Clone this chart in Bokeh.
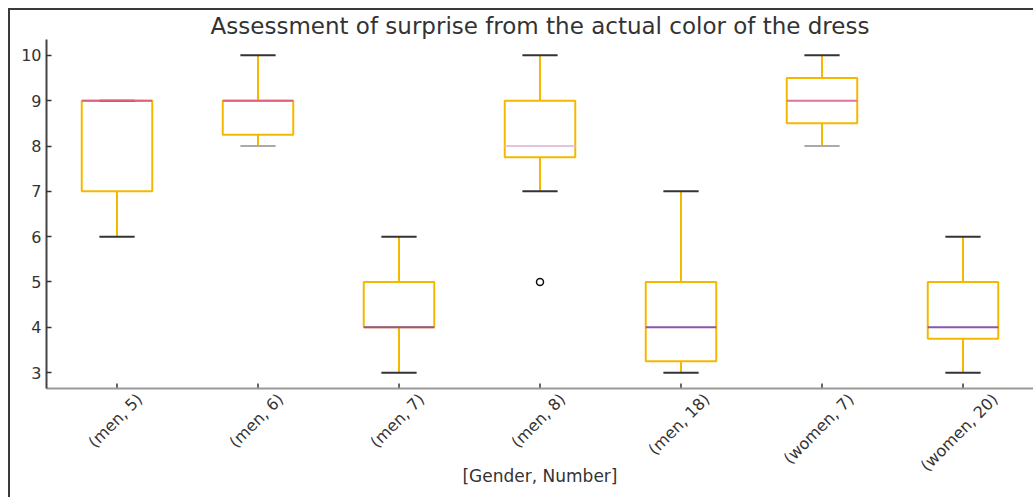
from bokeh.plotting import figure
from bokeh.models import ColumnDataSource, Range1d, FixedTicker
from bokeh.transform import dodge
from bokeh.embed import file_html
from bokeh.resources import INLINE
import math

# ---- data ----
groups = ["(men, 5)", "(men, 6)", "(men, 7)", "(men, 8)", "(men, 18)", "(women, 7)", "(women, 20)"]
lower_whisker = [6, 8, 3, 7, 3, 8, 3]
q1 = [7, 8.25, 4, 7.75, 3.25, 8.5, 3.75]
median = [9, 9, 4, 8, 4, 9, 4]
q3 = [9, 9, 5, 9, 5, 9.5, 5]
upper_whisker = [9, 10, 6, 10, 7, 10, 6]
outlier_groups = ["(men, 8)"]
outlier_values = [5]
y_ticks = [3, 4, 5, 6, 7, 8, 9, 10]

# ---- styles ----
BOX = "#f5b800"
median_colors = ["#e0607a", "#e0607a", "#8e55a8", "#e4c4dc", "#8e55a8", "#d9789a", "#8e55a8"]
low_cap_colors = ["#333333", "#aaaaaa", "#333333", "#333333", "#333333", "#aaaaaa", "#333333"]
TEXT = "#333333"
FONT = "DejaVu Sans"
LABEL_PX = 16

# x positions of the categories (1..n, as matplotlib boxplot)
pos = list(range(1, len(groups) + 1))
outlier_pos = [pos[groups.index(g)] for g in outlier_groups]
Y0, Y1 = 2.65, 10.35

src = ColumnDataSource(dict(x=pos, lo=lower_whisker, q1=q1, med=median, q3=q3,
                            hi=upper_whisker, mc=median_colors, lcc=low_cap_colors))

p = figure(width=1033, height=497, output_backend="svg", toolbar_location=None,
           x_range=Range1d(0.5, len(groups) + 0.5), y_range=Range1d(Y0, Y1),
           min_border_left=46, min_border_right=0, min_border_top=39, min_border_bottom=109,
           title="Assessment of surprise from the actual color of the dress")
p.border_fill_color = None
p.background_fill_color = None
p.styles = {"box-shadow": "inset 8px 8px 0 0 #ffffff, inset 10px 10px 0 0 #3a3a3a"}

p.title.align = "center"
p.title.text_font = FONT
p.title.text_font_size = "23px"
p.title.text_font_style = "normal"
p.title.text_color = TEXT
p.title.standoff = 2
p.title.offset = 0

p.grid.visible = False
p.outline_line_color = None

# y axis
p.yaxis.ticker = FixedTicker(ticks=y_ticks)
p.yaxis.minor_tick_line_color = None
p.yaxis.major_tick_in = 5
p.yaxis.major_tick_out = 0
p.yaxis.major_tick_line_color = "#333333"
p.yaxis.major_tick_line_width = 1.5
p.yaxis.axis_line_width = 2
p.yaxis.axis_line_color = "#444444"
p.yaxis.major_label_standoff = 5
p.yaxis.major_label_text_font = FONT
p.yaxis.major_label_text_font_size = f"{LABEL_PX}px"
p.yaxis.major_label_text_color = TEXT

# x axis: labels rotated 45deg and centred under the ticks (matplotlib style).
# Bokeh anchors a rotated label at its end, so the label ticks are moved right
# by half of each label's horizontal extent; the real tick marks are drawn below.
px_per_unit = (1033 - 46) / len(groups)
def half_extent(s):
    return 0.7071 * (len(s) * 0.56 * LABEL_PX + LABEL_PX * 0.75) / 2
label_ticks = [x + (half_extent(g) - 7) / px_per_unit for x, g in zip(pos, groups)]
p.xaxis.ticker = FixedTicker(ticks=label_ticks)
p.xaxis.major_label_overrides = {t: g for t, g in zip(label_ticks, groups)}
p.xaxis.major_label_orientation = math.pi / 4
p.xaxis.major_tick_line_color = None
p.xaxis.minor_tick_line_color = None
p.xaxis.major_tick_in = 0
p.xaxis.major_tick_out = 0
p.xaxis.major_label_standoff = 8
p.xaxis.major_label_text_font = FONT
p.xaxis.major_label_text_font_size = f"{LABEL_PX}px"
p.xaxis.major_label_text_color = TEXT
p.xaxis.axis_line_width = 2
p.xaxis.axis_line_color = "#999999"
p.xaxis.axis_label = "[Gender, Number]"
p.xaxis.axis_label_text_font = FONT
p.xaxis.axis_label_text_font_size = "17px"
p.xaxis.axis_label_text_font_style = "normal"
p.xaxis.axis_label_text_color = TEXT
p.xaxis.axis_label_standoff = -19

# inward tick marks at the category positions
p.scatter(x=pos, y=[Y0] * len(pos), marker="dash", angle=math.pi / 2, size=10,
          line_color="#333333", line_width=1.5)

# boxes
p.vbar(x="x", width=0.5, bottom="q1", top="q3", source=src, fill_color=None,
       line_color=BOX, line_width=2)
# whiskers
p.segment(x0="x", y0="q3", x1="x", y1="hi", source=src, line_color=BOX, line_width=2)
p.segment(x0="x", y0="q1", x1="x", y1="lo", source=src, line_color=BOX, line_width=2)
# caps
p.segment(x0=dodge("x", -0.125), y0="hi", x1=dodge("x", 0.125), y1="hi", source=src,
          line_color="#333333", line_width=2)
p.segment(x0=dodge("x", -0.125), y0="lo", x1=dodge("x", 0.125), y1="lo", source=src,
          line_color="lcc", line_width=2)
# medians
p.segment(x0=dodge("x", -0.25), y0="med", x1=dodge("x", 0.25), y1="med", source=src,
          line_color="mc", line_width=2)
# outliers
p.scatter(x=outlier_pos, y=outlier_values, marker="circle", size=7,
          fill_color=None, line_color="#111111", line_width=1.5)

open("out.html", "w").write(file_html(p, INLINE))
